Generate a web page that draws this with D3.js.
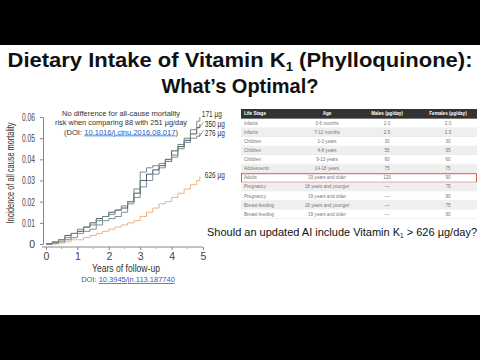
<!DOCTYPE html>
<html>
<head>
<meta charset="utf-8">
<script src="https://cdn.jsdelivr.net/npm/d3@7"></script>
<style>
  body { margin: 0; background: #fff; }
  svg { display: block; font-family: Arial, "Liberation Sans", sans-serif; }
</style>
</head>
<body>
<div id="slide"></div>
<script>
// Kaplan-Meier style cumulative incidence
const years = [0, 0.2, 0.4, 0.6, 0.8, 1.0, 1.2, 1.4, 1.6, 1.8, 2.0, 2.2, 2.4, 2.6, 2.8, 3.0, 3.2, 3.4, 3.6, 3.8, 4.0, 4.2, 4.4, 4.6, 4.8, 4.9];
const inc171 = [0, .0005, .002, .003, .005, .007, .008, .009, .011, .013, .014, .016, .018, .020, .026, .034, .036, .037, .038, .039, .042, .047, .050, .054, .058, .060];
const inc350 = [0, .001, .002, .004, .005, .006, .008, .010, .012, .013, .015, .016, .017, .020, .024, .030, .033, .035, .037, .040, .044, .046, .049, .052, .055, .0565];
const inc276 = [0, .0005, .001, .002, .003, .005, .006, .007, .009, .011, .012, .013, .015, .019, .022, .027, .030, .033, .036, .039, .041, .045, .048, .050, .051, .0525];
const inc626 = [0, 0, .0005, .001, .002, .002, .003, .004, .005, .006, .007, .008, .009, .010, .011, .013, .015, .017, .019, .020, .022, .024, .026, .028, .030, .032];
const seriesNames = ["171 \u00b5g", "350 \u00b5g", "276 \u00b5g", "626 \u00b5g"];
const seriesColors = ["#6f8f80", "#4f575f", "#7d8ca0", "#f0b080"];

const xTicks = [0, 1, 2, 3, 4, 5];
const yTicks = [0, 0.01, 0.02, 0.03, 0.04, 0.05, 0.06];

// AI table (Life stage / Age / Males / Females)
const tableHeader = ["Life Stage", "Age", "Males (\u00b5g/day)", "Females (\u00b5g/day)"];
const lifeStages = ["Infants", "Infants", "Children", "Children", "Children", "Adolescents", "Adults", "Pregnancy", "Pregnancy", "Breast-feeding", "Breast-feeding"];
const ages = ["0-6 months", "7-12 months", "1-3 years", "4-8 years", "9-13 years", "14-18 years", "19 years and older", "18 years and younger", "19 years and older", "18 years and younger", "19 years and older"];
const males = ["2.0", "2.5", "30", "55", "60", "75", "120", "\u2014", "\u2014", "\u2014", "\u2014"];
const females = ["2.0", "2.5", "30", "55", "60", "75", "90", "75", "90", "75", "90"];
const highlightRow = "Adults";

const W = 480, H = 360;
const svg = d3.select("#slide").append("svg")
    .attr("width", W)
    .attr("height", H);

// Letterbox bars
svg.append("rect").attr("x", 0).attr("y", 0).attr("width", W).attr("height", 45).attr("fill", "#000");
svg.append("rect").attr("x", 0).attr("y", 315).attr("width", W).attr("height", 45).attr("fill", "#000");

// Title
const title = svg.append("text")
    .attr("x", W / 2)
    .attr("y", 67)
    .attr("text-anchor", "middle")
    .attr("font-size", 20)
    .attr("font-weight", "bold")
    .attr("fill", "#111")
    .attr("textLength", 465)
    .attr("lengthAdjust", "spacingAndGlyphs");
title.append("tspan").text("Dietary Intake of Vitamin K");
title.append("tspan").attr("font-size", 12).attr("dy", 4).text("1");
title.append("tspan").attr("dy", -4).text(" (Phylloquinone):");

svg.append("text")
    .attr("x", W / 2)
    .attr("y", 93)
    .attr("text-anchor", "middle")
    .attr("font-size", 20)
    .attr("font-weight", "bold")
    .attr("fill", "#111")
    .text("What\u2019s Optimal?");

// Chart scales
const xScale = d3.scaleLinear().domain([0, 5]).range([46, 203]);
const yScale = d3.scaleLinear().domain([0, 0.06]).range([244, 117]);

const chart = svg.append("g");

// y axis (the source uses a narrow face, so squeeze the labels)
const yAxis = chart.append("g")
    .attr("transform", "translate(43,0)")
    .call(d3.axisLeft(yScale).tickValues(yTicks).tickSize(3).tickPadding(5)
        .tickFormat(d => d === 0 ? "0" : d3.format(".2f")(d)));
yAxis.select(".domain").attr("stroke", "#888");
yAxis.selectAll(".tick line").attr("stroke", "#888");
yAxis.selectAll("text")
    .attr("font-size", 10.5).attr("fill", "#444").attr("font-family", null)
    .each(function(d) {
        if (d !== 0) d3.select(this).attr("textLength", 13).attr("lengthAdjust", "spacingAndGlyphs");
    });

// x axis, dropped slightly below zero
const xAxis = chart.append("g")
    .attr("transform", "translate(0,247)")
    .call(d3.axisBottom(xScale).tickValues(xTicks).tickSize(3).tickPadding(3).tickFormat(d3.format("d")));
xAxis.select(".domain").attr("stroke", "#888").attr("d", "M42,0H203");
xAxis.selectAll(".tick line").attr("stroke", "#888");
xAxis.selectAll("text").attr("font-size", 10.5).attr("fill", "#444").attr("font-family", null);

// minor half-year ticks
chart.append("g").selectAll("line")
    .data([0.5, 1.5, 2.5, 3.5, 4.5])
    .enter().append("line")
    .attr("x1", d => xScale(d)).attr("x2", d => xScale(d))
    .attr("y1", 247).attr("y2", 249)
    .attr("stroke", "#aaa");

// axis titles
chart.append("text")
    .attr("transform", "rotate(-90)")
    .attr("x", -173)
    .attr("y", 14)
    .attr("text-anchor", "middle")
    .attr("font-size", 10.5)
    .attr("fill", "#333")
    .attr("textLength", 101)
    .attr("lengthAdjust", "spacingAndGlyphs")
    .text("Incidence of all cause mortality");

chart.append("text")
    .attr("x", 126)
    .attr("y", 272)
    .attr("text-anchor", "middle")
    .attr("font-size", 10.5)
    .attr("fill", "#333")
    .attr("textLength", 68)
    .attr("lengthAdjust", "spacingAndGlyphs")
    .text("Years of follow-up");

const doi1 = svg.append("text")
    .attr("x", 128)
    .attr("y", 282)
    .attr("text-anchor", "middle")
    .attr("font-size", 7.5)
    .attr("fill", "#555");
doi1.append("tspan").text("DOI: ");
doi1.append("tspan").attr("fill", "#1f5fbf").attr("text-decoration", "underline").text("10.3945/jn.113.187740");

// Step curves
const allSeries = [inc171, inc350, inc276, inc626];
const line = d3.line()
    .x((d, i) => xScale(years[i]))
    .y(d => yScale(d))
    .curve(d3.curveStepAfter);

allSeries.slice().reverse().forEach((s, j) => {
    const i = allSeries.length - 1 - j;
    chart.append("path")
        .datum(s)
        .attr("fill", "none")
        .attr("stroke", seriesColors[i])
        .attr("stroke-width", 1)
        .attr("d", line);
});

// End labels
const labelDx = [2, 5, 5, 5];
const labelDy = [0, 3, 3, 2];
allSeries.forEach((s, i) => {
    const xEnd = xScale(years[years.length - 1]);
    const yEnd = yScale(s[s.length - 1]);
    chart.append("text")
        .attr("x", xEnd + labelDx[i])
        .attr("y", yEnd + labelDy[i])
        .attr("font-size", 8.5)
        .attr("fill", "#333")
        .attr("textLength", 20)
        .attr("lengthAdjust", "spacingAndGlyphs")
        .text(seriesNames[i]);
    if (i === 1 || i === 2) {
        chart.append("line")
            .attr("x1", xEnd + 4).attr("y1", yEnd - 3)
            .attr("x2", xEnd - 1).attr("y2", yEnd + 4)
            .attr("stroke", "#666").attr("stroke-width", 0.6);
    }
});

// Annotation
const note = chart.append("g").attr("font-size", 7.5).attr("fill", "#333")
    .attr("text-anchor", "middle");
note.append("text").attr("x", 121).attr("y", 116).attr("textLength", 118)
    .attr("lengthAdjust", "spacingAndGlyphs").text("No difference for all-cause mortality");
note.append("text").attr("x", 121).attr("y", 125).attr("textLength", 132)
    .attr("lengthAdjust", "spacingAndGlyphs").text("risk when comparing 88 with 251 \u00b5g/day");
const doi2 = note.append("text").attr("x", 121).attr("y", 134.5).attr("textLength", 114)
    .attr("lengthAdjust", "spacingAndGlyphs");
doi2.append("tspan").text("(DOI: ");
doi2.append("tspan").attr("fill", "#1f5fbf").attr("text-decoration", "underline").text("10.1016/j.clnu.2016.08.017");
doi2.append("tspan").text(")");

// Table
const table = svg.append("g");
const tX0 = 241, tX1 = 477, headTop = 109, rowH = 9.07, rowTop = 118.8;
const colX = [244, 327, 387, 448];
const colAnchor = ["start", "middle", "middle", "middle"];

table.append("rect")
    .attr("x", tX0).attr("y", headTop)
    .attr("width", tX1 - tX0).attr("height", rowTop - headTop)
    .attr("fill", "#333");
tableHeader.forEach((h, c) => {
    table.append("text")
        .attr("x", colX[c]).attr("y", headTop + 6.3)
        .attr("text-anchor", colAnchor[c])
        .attr("font-size", 4.6).attr("font-weight", "bold")
        .attr("fill", "#fff")
        .text(h);
});

lifeStages.forEach((stage, r) => {
    const y = rowTop + r * rowH;
    table.append("rect")
        .attr("x", tX0).attr("y", y)
        .attr("width", tX1 - tX0).attr("height", rowH)
        .attr("fill", r % 2 === 1 ? "#efefef" : "#fff");
    table.append("line")
        .attr("x1", tX0).attr("x2", tX1)
        .attr("y1", y + rowH).attr("y2", y + rowH)
        .attr("stroke", "#e2e2e2").attr("stroke-width", 0.5);
    [stage, ages[r], males[r], females[r]].forEach((v, c) => {
        table.append("text")
            .attr("x", colX[c]).attr("y", y + 6.2)
            .attr("text-anchor", colAnchor[c])
            .attr("font-size", 4.6)
            .attr("fill", "#777")
            .text(v);
    });
    if (stage === highlightRow) {
        table.append("rect")
            .attr("x", tX0 + 0.5).attr("y", y + 0.5)
            .attr("width", tX1 - tX0 - 1).attr("height", rowH - 0.5)
            .attr("fill", "none")
            .attr("stroke", "#d9534f").attr("stroke-width", 1);
    }
});

// Question
const q = svg.append("text")
    .attr("x", 207)
    .attr("y", 236)
    .attr("font-size", 11)
    .attr("fill", "#111");
q.append("tspan").text("Should an updated AI include Vitamin K");
q.append("tspan").attr("font-size", 6.5).attr("dy", 2).text("1");
q.append("tspan").attr("dy", -2).text(" > 626 \u00b5g/day?");
</script>
</body>
</html>
